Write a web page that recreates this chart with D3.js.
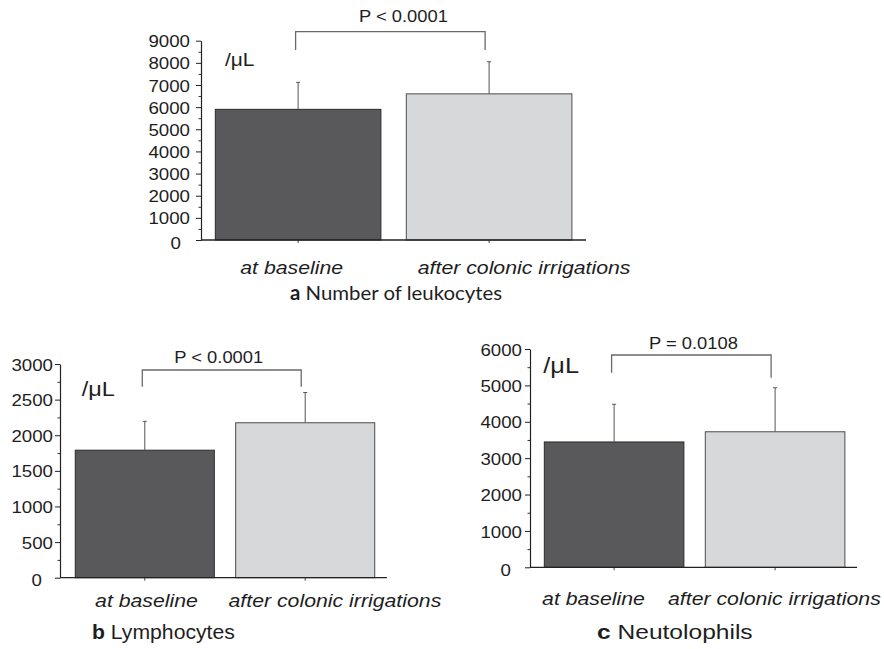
<!DOCTYPE html>
<html>
<head>
<meta charset="utf-8">
<script src="https://cdn.jsdelivr.net/npm/d3@7"></script>
<style>
  html, body { margin: 0; padding: 0; background: #fff; }
  svg { display: block; }
  text { font-family: "Liberation Sans", Arial, sans-serif; fill: #1e1e1e; }
</style>
</head>
<body>
<svg id="chart" width="884" height="649"></svg>
<script>
// ---------------- DATA ----------------
const categories = ["at baseline", "after colonic irrigations"];

const leukocyteMean = [5900, 6600];
const leukocyteSD   = [1220, 1450];
const lymphocyteMean = [1790, 2175];
const lymphocyteSD   = [405, 425];
const neutrophilMean = [3445, 3725];
const neutrophilSD   = [1035, 1210];

const leukocyteTicks  = [0, 1000, 2000, 3000, 4000, 5000, 6000, 7000, 8000, 9000];
const lymphocyteTicks = [0, 500, 1000, 1500, 2000, 2500, 3000];
const neutrophilTicks = [0, 1000, 2000, 3000, 4000, 5000, 6000];

const pLabels = ["P < 0.0001", "P < 0.0001", "P = 0.0108"];
// bracket: [top level, left foot, right foot] in data units
const leukocyteBracket  = [9406, 8580, 8580];
const lymphocyteBracket = [2916, 2681, 2681];
const neutrophilBracket = [5835, 5349, 5211];

const panelLetters = ["a", "b", "c"];
const panelTitles  = ["Number of leukocytes", "Lymphocytes", "Neutolophils"];
const unitLabel = "/\u03BCL";

// ---------------- LAYOUT ----------------
const panels = [
  { mean: leukocyteMean, sd: leukocyteSD, ticks: leukocyteTicks, minorStep: 500, bracket: leukocyteBracket,
    axisX: 201, band: [202.6, 584.6], yRange: [240, 40.7], tickGap: 11, zeroShift: 9,
    p: { dx: 13, y: 22 }, unit: { x: 225, y: 66, size: 19, s: 1.1 },
    catDx: [-6.4, 35], catY: 274, title: { x: 290, y: 300, font: "Lato", size: 20, s: 1.02 } },
  { mean: lymphocyteMean, sd: lymphocyteSD, ticks: lymphocyteTicks, minorStep: 250, bracket: lymphocyteBracket,
    axisX: 60, band: [64.6, 385.4], yRange: [577.7, 364], tickGap: 7, zeroShift: 11,
    p: { dx: -3, y: 363 }, unit: { x: 81.7, y: 396, size: 21, s: 1.12 },
    catDx: [1.7, 29.7], catY: 607, title: { x: 92, y: 639, font: "Liberation Sans", size: 20, s: 1.06 } },
  { mean: neutrophilMean, sd: neutrophilSD, ticks: neutrophilTicks, minorStep: 500, bracket: neutrophilBracket,
    axisX: 530, band: [533.6, 855.6], yRange: [567.3, 349], tickGap: 8, zeroShift: 11,
    p: { dx: 2, y: 349 }, unit: { x: 543.3, y: 372.5, size: 22, s: 1.15 },
    catDx: [-20.6, -0.7], catY: 605, title: { x: 597, y: 639, font: "Liberation Sans", size: 21, s: 1.17 } }
];

const tickFont = 17, tickS = 1.1;
const catFont = 19, catS = 1.12;
const pFont = 17, pS = 1.08;

const barFill   = ["#59595b", "#d7d8da"];
const barStroke = ["#2b2b2b", "#4d4d4d"];

const svg = d3.select("#chart");
svg.append("rect").attr("width", 884).attr("height", 649).attr("fill", "#fff");

function stretchText(g, x, y, str, size, anchor, s, italic) {
  return g.append("text")
    .attr("transform", `translate(${x},${y}) scale(${s},1)`)
    .attr("text-anchor", anchor)
    .style("font-size", size + "px")
    .style("font-style", italic ? "italic" : "normal")
    .text(str);
}

panels.forEach((P, i) => {
  const g = svg.append("g");
  const maxV = P.ticks[P.ticks.length - 1];
  const y = d3.scaleLinear().domain([0, maxV]).range(P.yRange);
  const x = d3.scaleBand().domain(categories).range(P.band)
    .paddingInner(0.133).paddingOuter(0.0665);

  // bars
  g.selectAll("rect.bar").data(categories).join("rect")
    .attr("class", "bar")
    .attr("x", d => x(d))
    .attr("width", x.bandwidth())
    .attr("y", (d, j) => y(P.mean[j]))
    .attr("height", (d, j) => y(0) - y(P.mean[j]))
    .attr("fill", (d, j) => barFill[j])
    .attr("stroke", (d, j) => barStroke[j])
    .attr("stroke-width", 1);

  // error bars (upper only)
  const eg = g.append("g").attr("stroke", "#555").attr("stroke-width", 1).attr("fill", "none");
  categories.forEach((c, j) => {
    const cx = x(c) + x.bandwidth() / 2;
    eg.append("line").attr("x1", cx).attr("x2", cx)
      .attr("y1", y(P.mean[j])).attr("y2", y(P.mean[j] + P.sd[j]));
    eg.append("line").attr("x1", cx - 2).attr("x2", cx + 2)
      .attr("y1", y(P.mean[j] + P.sd[j])).attr("y2", y(P.mean[j] + P.sd[j]));
  });

  // y axis: minor ticks
  const minorVals = d3.range(P.minorStep, maxV, P.minorStep).filter(v => !P.ticks.includes(v));
  const yMinor = g.append("g").attr("transform", `translate(${P.axisX},0)`)
    .call(d3.axisLeft(y).tickValues(minorVals).tickSize(2.5).tickSizeOuter(0).tickFormat(""));
  yMinor.select(".domain").remove();
  yMinor.selectAll("line").attr("stroke", "#333");

  // y axis: major ticks
  const yAx = g.append("g").attr("transform", `translate(${P.axisX},0)`)
    .call(d3.axisLeft(y).tickValues(P.ticks).tickSize(5).tickSizeOuter(0).tickFormat(d3.format("d")));
  yAx.select(".domain").attr("stroke", "#222").attr("stroke-width", 1.2);
  yAx.selectAll(".tick line").attr("stroke", "#222");
  yAx.selectAll(".tick text")
    .attr("x", null).attr("dy", "0.36em")
    .attr("transform", d => `translate(${-P.tickGap - (d === 0 ? P.zeroShift : 0)},${d === 0 ? 2 : 0}) scale(${tickS},1)`)
    .attr("text-anchor", "end")
    .attr("fill", "#1e1e1e")
    .style("font-family", "'Liberation Sans', Arial, sans-serif")
    .style("font-size", tickFont + "px");

  // x axis (baseline + category ticks)
  const xAx = g.append("g").attr("transform", `translate(0,${y(0)})`)
    .call(d3.axisBottom(x).tickSize(3).tickSizeOuter(0).tickFormat(""));
  xAx.select(".domain").remove();
  xAx.selectAll("line").attr("stroke", "#444");
  g.append("line")
    .attr("x1", P.axisX).attr("x2", P.band[1] + 1.5)
    .attr("y1", y(0)).attr("y2", y(0))
    .attr("stroke", "#222").attr("stroke-width", 1.3);

  // category labels
  categories.forEach((c, j) => {
    stretchText(g, x(c) + x.bandwidth() / 2 + P.catDx[j], P.catY, c, catFont, "middle", catS, true);
  });

  // significance bracket
  const bx1 = x(categories[0]) + x.bandwidth() / 2 - 2.5;
  const bx2 = x(categories[1]) + x.bandwidth() / 2 - 4;
  g.append("path")
    .attr("d", `M${bx1},${y(P.bracket[1])}V${y(P.bracket[0])}H${bx2}V${y(P.bracket[2])}`)
    .attr("fill", "none").attr("stroke", "#6a6a6a").attr("stroke-width", 1.3);
  stretchText(g, (bx1 + bx2) / 2 + P.p.dx, P.p.y, pLabels[i], pFont, "middle", pS, false);

  // unit label
  stretchText(g, P.unit.x, P.unit.y, unitLabel, P.unit.size, "start", P.unit.s, false);

  // panel title
  const t = g.append("text")
    .attr("transform", `translate(${P.title.x},${P.title.y}) scale(${P.title.s},1)`)
    .style("font-family", `'${P.title.font}', 'Liberation Sans', sans-serif`)
    .style("font-size", P.title.size + "px");
  t.append("tspan").style("font-weight", "bold").text(panelLetters[i]);
  t.append("tspan").text(" " + panelTitles[i]);
});
</script>
</body>
</html>
